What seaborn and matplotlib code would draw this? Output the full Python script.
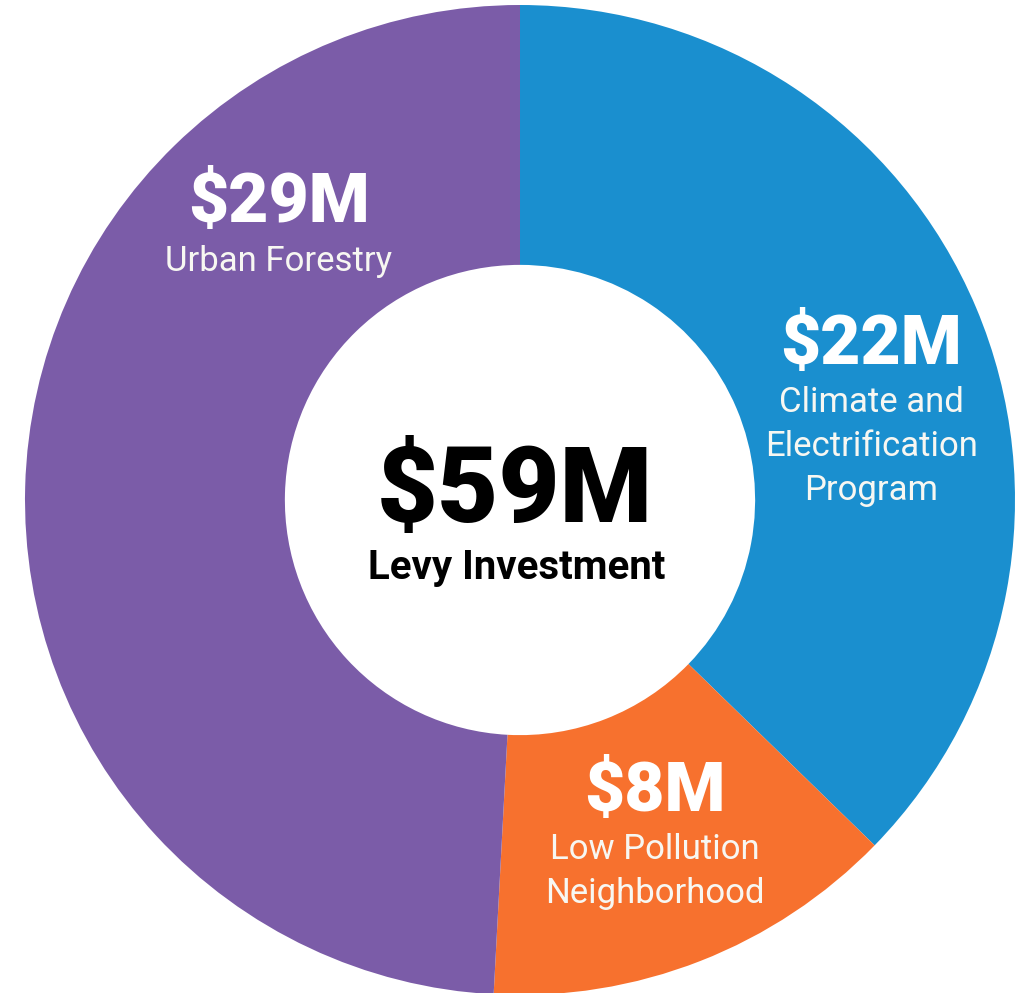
import matplotlib
matplotlib.use("Agg")
import matplotlib.pyplot as plt
import seaborn as sns

# data
programs = ["Climate and\nElectrification\nProgram", "Low Pollution\nNeighborhood", "Urban Forestry"]
amounts = [22, 8, 29]
amount_labels = ["$22M", "$8M", "$29M"]
total_label = "$59M"
total_caption = "Levy Investment"

colors = ["#1A8FCF", "#F7712E", "#7B5CA8"]

sns.set_theme(style="white")
plt.rcParams['font.family'] = ['Roboto', 'DejaVu Sans']

fig = plt.figure(figsize=(10.23, 9.93), dpi=100)
ax = fig.add_axes([0, 0, 1, 1])

ax.pie(amounts, colors=colors, startangle=90, counterclock=False,
       radius=1.0, wedgeprops=dict(width=0.525, linewidth=0))

# where each label sits (data coords, circle radius = 1)
label_pos = [(0.71, 0.312), (0.273, -0.59), (-0.487, 0.598)]
for (x, y), amt, name in zip(label_pos, amount_labels, programs):
    ax.text(x, y, amt, ha='center', va='center', color='white',
            fontsize=50, fontweight='heavy')
    ax.text(x, y - 0.082, name, ha='center', va='top', color='#F7F7F2',
            fontsize=25, linespacing=1.42)

ax.text(-0.01, 0.014, total_label, ha='center', va='center', color='black',
        fontsize=76, fontweight='heavy')
ax.text(-0.006, -0.138, total_caption, ha='center', va='center', color='black',
        fontsize=29, fontweight='bold')

ax.set_aspect('equal')
ax.set_xlim(-520 / 495, (1023 - 520) / 495)
ax.set_ylim(-(993 - 500) / 495, 500 / 495)
ax.axis('off')

fig.savefig("out.png", dpi=100, facecolor='white')
